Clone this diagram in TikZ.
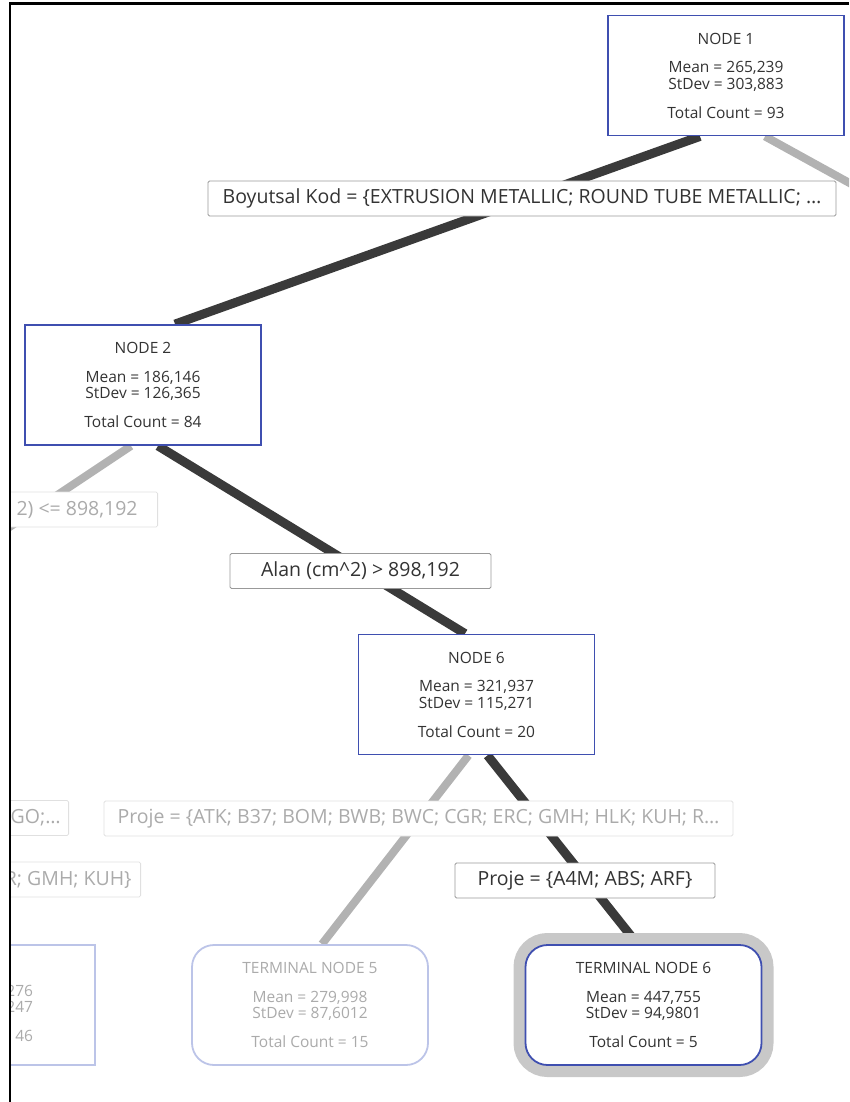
\documentclass[tikz,border=0pt]{standalone}
\usepackage{fontspec}
\setmainfont{Open Sans}
\usepackage{xcolor}
\usetikzlibrary{positioning,backgrounds}
\definecolor{nodeblue}{HTML}{3F4FB0}
\definecolor{paleblue}{HTML}{BCC4E8}
\definecolor{ink}{HTML}{333333}
\definecolor{fadeink}{HTML}{ABABAB}
\definecolor{darkedge}{HTML}{3A3A3A}
\definecolor{lightedge}{HTML}{B2B2B2}
\definecolor{labelgray}{HTML}{999999}
\definecolor{fadegray}{HTML}{E0E0E0}
\definecolor{halo}{HTML}{C8C8C8}
\newcommand{\boxfont}{\fontsize{15.5}{16.5}\selectfont}
\newcommand{\splitfont}{\fontsize{19.5}{22}\selectfont}
\newcommand{\nodetext}[4]{#1\\[12pt]Mean = #2\\StDev = #3\\[12.5pt]Total Count = #4}

\begin{document}
\begin{tikzpicture}[
  x=1pt,y=-1pt,
  treenode/.style={draw=nodeblue,line width=1.8pt,fill=white,minimum width=236pt,minimum height=120pt,align=center,text=ink,font=\boxfont},
  termnode/.style={treenode,rounded corners=22pt},
  faded/.style={draw=paleblue,text=fadeink},
  chosen/.style={preaction={draw=halo,line width=24pt}},
  split/.style={draw=labelgray,line width=0.8pt,fill=white,rounded corners=1.5pt,minimum height=35pt,inner xsep=6pt,text=ink,font=\splitfont},
  fadesplit/.style={split,draw=fadegray,text=fadeink},
  branch/.style={line width=9pt,draw=darkedge},
  pruned/.style={line width=8pt,draw=lightedge}
]
\useasboundingbox (0,0) rectangle (849,1102);
\begin{scope}
\clip (10,4) rectangle (849,1102);
\node[treenode] (n1) at (726,75.5) {\nodetext{NODE 1}{265,239}{303,883}{93}};
\node[treenode] (n2) at (143,385) {\nodetext{NODE 2}{186,146}{126,365}{84}};
\node[treenode] (n6) at (476.5,694.5) {\nodetext{NODE 6}{321,937}{115,271}{20}};
\node[treenode,faded,text width=112pt,align=right] (n5) at (-23,1005) {\mbox{}\\[12pt]276\\247\\[12.5pt]= 46};
\node[termnode,faded] (t5) at (310,1005) {\nodetext{TERMINAL NODE 5}{279,998}{87,6012}{15}};
\node[termnode,chosen] (t6) at (643.5,1005) {\nodetext{TERMINAL NODE 6}{447,755}{94,9801}{5}};
\coordinate (n3) at (1000,266);
\coordinate (n4) at (-100,600);
% split labels
\node[split,minimum width=628pt] (s1) at (522,198.5) {Boyutsal Kod = \{EXTRUSION METALLIC; ROUND TUBE METALLIC; \ldots};
\node[fadesplit,anchor=east,inner xsep=20pt] (s2) at (158,509.5) {2) <= 898,192};
\node[split,minimum width=261pt] (s3) at (360.5,571) {Alan (cm\textasciicircum 2) > 898,192};
\node[fadesplit,anchor=east,inner xsep=8pt] (s4) at (69,818) {GO;\ldots};
\node[fadesplit,minimum width=629pt] (s5) at (418.5,818.5) {Proje = \{ATK; B37; BOM; BWB; BWC; CGR; ERC; GMH; HLK; KUH; R\ldots};
\node[fadesplit,anchor=east,inner xsep=9pt] (s6) at (141,879.5) {R; GMH; KUH\}};
\node[split,minimum width=260pt] (s7) at (585,880.5) {Proje = \{A4M; ABS; ARF\}};
\end{scope}
\begin{scope}[on background layer]
\clip (10,4) rectangle (849,1102);
\draw[branch] ([xshift=-26pt]n1.south) -- ([xshift=32pt]n2.north);
\draw[pruned] ([xshift=39pt]n1.south) -- (n3);
\draw[pruned] ([xshift=-12pt]n2.south) -- (n4);
\draw[branch] ([xshift=15pt]n2.south) -- ([xshift=-11.5pt]n6.north);
\draw[pruned] ([xshift=-8pt]n6.south) -- ([xshift=12pt]t5.north);
\draw[branch] ([xshift=11pt]n6.south) -- ([xshift=-6pt]t6.north);
\end{scope}
% window frame
\draw[line width=2.5pt] (10,1102) -- (10,3.5) -- (849,3.5);
\end{tikzpicture}
\end{document}
